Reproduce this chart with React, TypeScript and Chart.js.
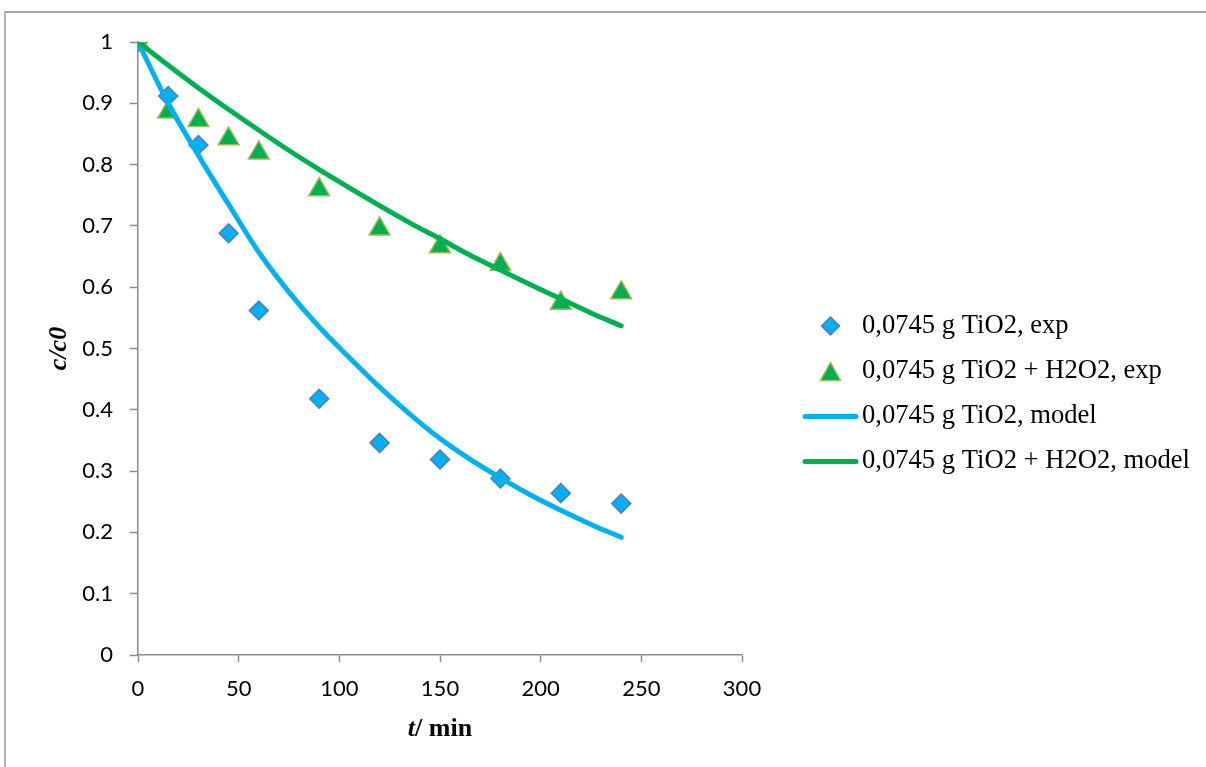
import React, { useEffect, useRef } from "react";
import { Chart, registerables } from "chart.js";

Chart.register(...registerables);

// ---- data ----
const timeExp = [0, 15, 30, 45, 60, 90, 120, 150, 180, 210, 240];
const tio2Exp = [1, 0.912, 0.832, 0.688, 0.562, 0.418, 0.346, 0.319, 0.288, 0.264, 0.247];
const tio2H2o2Exp = [1, 0.886, 0.872, 0.842, 0.819, 0.759, 0.695, 0.666, 0.637, 0.574, 0.591];

const timeModel = [0, 15, 30, 45, 60, 75, 90, 105, 120, 135, 150, 165, 180, 195, 210, 225, 240];
const tio2Model = [1, 0.9, 0.815, 0.735, 0.657, 0.592, 0.535, 0.485, 0.437, 0.393, 0.353, 0.319, 0.289, 0.261, 0.236, 0.213, 0.192];
const tio2H2o2Model = [1, 0.962, 0.925, 0.89, 0.856, 0.823, 0.792, 0.762, 0.733, 0.705, 0.679, 0.652, 0.628, 0.604, 0.581, 0.558, 0.537];

const seriesLabels = [
  "0,0745 g TiO2, exp",
  "0,0745 g TiO2 + H2O2, exp",
  "0,0745 g TiO2, model",
  "0,0745 g TiO2 + H2O2, model",
];

const xAxisMin = 0;
const xAxisMax = 300;
const xAxisStep = 50;
const yAxisMin = 0;
const yAxisMax = 1;
const yAxisStep = 0.1;

const BLUE = "#00B0F0";
const BLUE_EDGE = "#4F7DBA";
const GREEN = "#00B050";
const GREEN_EDGE = "#9BBB59";
const AXIS = "#8c8c8c";
const SERIF = "'Liberation Serif', 'Times New Roman', serif";
const SANS = "Lato, 'Open Sans', sans-serif";

const zip = (xs: number[], ys: number[]) => xs.map((x, i) => ({ x, y: ys[i] }));

const decorPlugin = {
  id: "decor",
  beforeDraw(chart: any) {
    const ctx = chart.ctx as CanvasRenderingContext2D;
    ctx.save();
    ctx.fillStyle = "#fff";
    ctx.fillRect(0, 0, chart.width, chart.height);
    ctx.strokeStyle = "#8a8a8a";
    ctx.lineWidth = 1.3;
    ctx.beginPath();
    ctx.moveTo(5, chart.height + 2);
    ctx.lineTo(5, 12);
    ctx.lineTo(chart.width + 2, 12);
    ctx.stroke();
    ctx.restore();
  },
  afterDraw(chart: any) {
    const ctx = chart.ctx as CanvasRenderingContext2D;
    const area = chart.chartArea;
    ctx.save();
    ctx.fillStyle = "#000";
    // y title
    ctx.save();
    ctx.translate(59, (area.top + area.bottom) / 2);
    ctx.rotate(-Math.PI / 2);
    ctx.font = `italic bold 26px ${SERIF}`;
    ctx.textAlign = "center";
    ctx.textBaseline = "middle";
    ctx.fillText("c/c0", 0, 0);
    ctx.restore();
    // x title "t/ min" with italic t
    const partA = "t";
    const partB = "/ min";
    ctx.textBaseline = "middle";
    ctx.textAlign = "left";
    ctx.font = `italic bold 26px ${SERIF}`;
    const wA = ctx.measureText(partA).width;
    ctx.font = `bold 26px ${SERIF}`;
    const wB = ctx.measureText(partB).width;
    const cx = (area.left + area.right) / 2;
    const sx = cx - (wA + wB) / 2;
    const ty = 729;
    ctx.font = `italic bold 26px ${SERIF}`;
    ctx.fillText(partA, sx, ty);
    ctx.font = `bold 26px ${SERIF}`;
    ctx.fillText(partB, sx + wA, ty);

    // legend
    const lx0 = 803;
    const lx1 = 858;
    const mx = (lx0 + lx1) / 2;
    const tx = 862;
    const ys = [326, 371.5, 416.5, 461.5];
    const dsets = chart.data.datasets;
    ctx.font = `26.6px ${SERIF}`;
    ctx.textBaseline = "middle";
    ctx.textAlign = "left";
    for (let i = 0; i < dsets.length; i++) {
      const ds = dsets[i];
      const y = ys[i];
      if (ds.showLine === false) {
        ctx.fillStyle = ds.pointBackgroundColor;
        ctx.strokeStyle = ds.pointBorderColor;
        ctx.lineWidth = ds.pointBorderWidth;
        ctx.beginPath();
        if (ds.pointStyle === "rectRot") {
          const r = 9;
          ctx.moveTo(mx, y - r);
          ctx.lineTo(mx + r, y);
          ctx.lineTo(mx, y + r);
          ctx.lineTo(mx - r, y);
        } else {
          const h = 18;
          const w = 20;
          ctx.moveTo(mx, y - h / 2);
          ctx.lineTo(mx + w / 2, y + h / 2);
          ctx.lineTo(mx - w / 2, y + h / 2);
        }
        ctx.closePath();
        ctx.fill();
        ctx.stroke();
      } else {
        ctx.strokeStyle = ds.borderColor;
        ctx.lineWidth = ds.borderWidth;
        ctx.lineCap = "round";
        ctx.beginPath();
        ctx.moveTo(lx0 + 2, y);
        ctx.lineTo(lx1 - 2, y);
        ctx.stroke();
      }
      ctx.fillStyle = "#000";
      ctx.fillText(ds.label, tx, y);
    }
    ctx.restore();
  },
};

export default function App() {
  const ref = useRef<HTMLCanvasElement>(null);

  useEffect(() => {
    document.body.style.margin = "0";
    const chart = new Chart(ref.current as HTMLCanvasElement, {
      type: "line",
      data: {
        datasets: [
          {
            label: seriesLabels[0],
            data: zip(timeExp, tio2Exp),
            showLine: false,
            pointStyle: "rectRot",
            pointRadius: 9.5,
            pointBackgroundColor: BLUE,
            pointBorderColor: BLUE_EDGE,
            pointBorderWidth: 1.5,
            pointHoverRadius: 9.5,
            order: 3,
          } as any,
          {
            label: seriesLabels[1],
            data: zip(timeExp, tio2H2o2Exp),
            showLine: false,
            pointStyle: "triangle",
            pointRadius: 12,
            pointBackgroundColor: GREEN,
            pointBorderColor: GREEN_EDGE,
            pointBorderWidth: 1.5,
            pointHoverRadius: 12,
            order: 2,
          } as any,
          {
            label: seriesLabels[2],
            data: zip(timeModel, tio2Model),
            borderColor: BLUE,
            borderWidth: 5,
            borderCapStyle: "round",
            pointRadius: 0,
            cubicInterpolationMode: "monotone",
            fill: false,
            order: 1,
          } as any,
          {
            label: seriesLabels[3],
            data: zip(timeModel, tio2H2o2Model),
            borderColor: GREEN,
            borderWidth: 5,
            borderCapStyle: "round",
            pointRadius: 0,
            cubicInterpolationMode: "monotone",
            fill: false,
            order: 0,
          } as any,
        ],
      },
      options: {
        responsive: false,
        animation: false,
        events: [],
        layout: { padding: { left: 0, top: 42, right: 1206 - 742, bottom: 0 } },
        plugins: {
          legend: { display: false },
          tooltip: { enabled: false },
          title: { display: false },
        },
        scales: {
          x: {
            type: "linear",
            min: xAxisMin,
            max: xAxisMax,
            ticks: {
              stepSize: xAxisStep,
              color: "#000",
              font: { family: SANS, size: 22 },
              padding: 14,
              maxRotation: 0,
              callback: (v: any) => String(Math.round(Number(v))),
            },
            grid: {
              display: true,
              drawOnChartArea: false,
              drawTicks: true,
              tickLength: 7,
              tickColor: AXIS,
              tickWidth: 1.5,
            },
            border: { display: true, color: AXIS, width: 1.5 },
            afterFit: (s: any) => {
              s.height = 767 - 655;
            },
          },
          y: {
            type: "linear",
            min: yAxisMin,
            max: yAxisMax,
            ticks: {
              stepSize: yAxisStep,
              color: "#000",
              font: { family: SANS, size: 22 },
              padding: 17,
              callback: (v: any) => String(Math.round(Number(v) * 10) / 10),
            },
            grid: {
              display: true,
              drawOnChartArea: false,
              drawTicks: true,
              tickLength: 8,
              tickColor: AXIS,
              tickWidth: 1.5,
            },
            border: { display: true, color: AXIS, width: 1.5 },
            afterFit: (s: any) => {
              s.width = 138;
            },
          },
        },
      } as any,
      plugins: [decorPlugin],
    });
    return () => chart.destroy();
  }, []);

  return (
    <div style={{ position: "fixed", left: 0, top: 0, width: 1206, height: 767, background: "#fff" }}>
      <canvas ref={ref} width={1206} height={767} style={{ width: 1206, height: 767, display: "block" }} />
    </div>
  );
}
